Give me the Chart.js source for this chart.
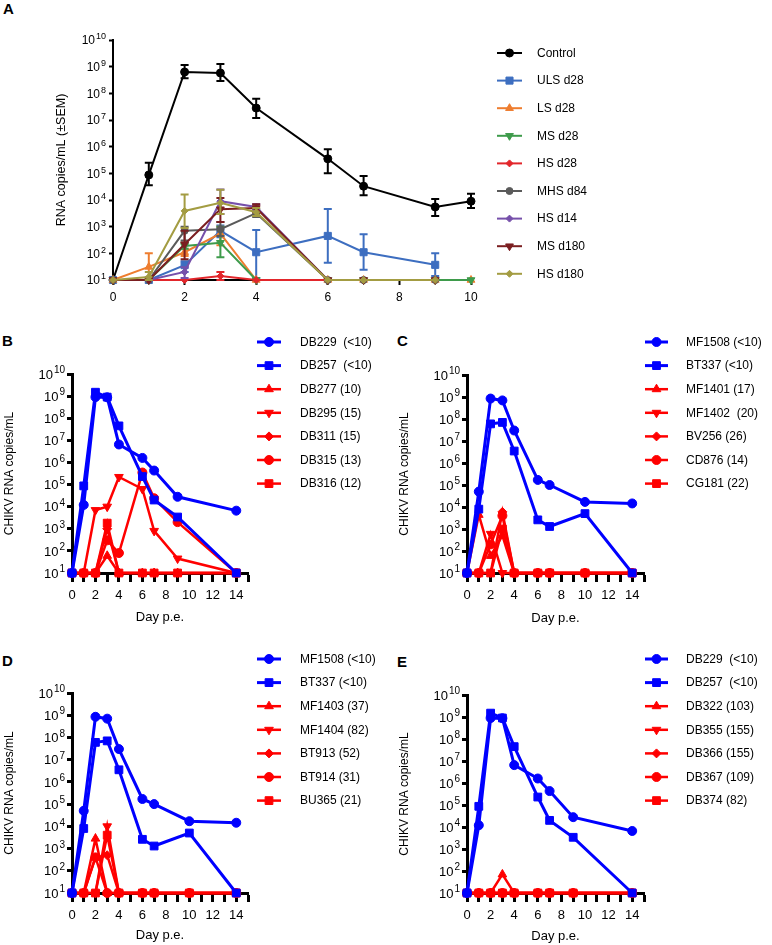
<!DOCTYPE html>
<html>
<head>
<meta charset="utf-8">
<script src="https://cdn.jsdelivr.net/npm/chart.js@4.4.1/dist/chart.umd.min.js"></script>
<style>
  body { margin: 0; background: #fff; width: 772px; height: 945px; position: relative; overflow: hidden; }
  canvas { position: absolute; }
  .tag { position: absolute; font: bold 15px "Liberation Sans", Arial, sans-serif; color: #000; }
</style>
</head>
<body>
<div class="tag" style="left:3px;top:0px">A</div>
<div class="tag" style="left:2px;top:332px">B</div>
<div class="tag" style="left:397px;top:332px">C</div>
<div class="tag" style="left:2px;top:652px">D</div>
<div class="tag" style="left:397px;top:653px">E</div>

<canvas id="chartA" width="772" height="312" style="left:0;top:0"></canvas>
<canvas id="chartB" width="380" height="310" style="left:0;top:320px"></canvas>
<canvas id="chartC" width="392" height="310" style="left:380px;top:320px"></canvas>
<canvas id="chartD" width="380" height="315" style="left:0;top:630px"></canvas>
<canvas id="chartE" width="392" height="315" style="left:380px;top:630px"></canvas>

<script>
const FONT = '"Liberation Sans", Arial, Helvetica, sans-serif';

// ---- shared ticks
const yTicks = [1e1, 1e2, 1e3, 1e4, 1e5, 1e6, 1e7, 1e8, 1e9, 1e10];
const xTicksA = [0, 2, 4, 6, 8, 10];
const xTicksDay = [0, 1, 2, 3, 4, 5, 6, 7, 8, 9, 10, 11, 12, 13, 14, 15];
const xLabelsDay = [0, 2, 4, 6, 8, 10, 12, 14];

// ---- panel A (mean ± SEM)
const daysA = [0, 1, 2, 3, 4, 6, 7, 9, 10];
const daysA9 = [0, 1, 2, 3, 4, 6, 7, 9];
const groupsA = ['Control', 'ULS d28', 'LS d28', 'MS d28', 'HS d28', 'MHS d84', 'HS d14', 'MS d180', 'HS d180'];

const control   = [10, 8.7e4, 6.3e8, 5.8e8, 2.8e7, 3.5e5, 3.3e4, 5.5e3, 9e3];
const controlHi = [null, 2.5e5, 1.15e9, 1.25e9, 6.2e7, 8e5, 8e4, 1.1e4, 1.7e4];
const controlLo = [null, 3.6e4, 3.7e8, 2.9e8, 1.2e7, 1e5, 1.5e4, 2.5e3, 5e3];
const ulsD28    = [10, 10, 36, 700, 110, 450, 110, 37];
const ulsD28Hi  = [null, null, 50, 1100, 750, 4600, 520, 100];
const ulsD28Lo  = [null, null, 20, 400, 12, 44, 24, 14];
const lsD28     = [10, 31, 110, 550, 10, 10, 10, 10, 10];
const lsD28Hi   = [null, 100, 150, 1000];
const lsD28Lo   = [null, 10, 80, 200];
const msD28     = [10, 10, 190, 250, 10, 10, 10, 10, 10];
const msD28Hi   = [null, null, 250, 1000];
const msD28Lo   = [null, null, 150, 72];
const hsD28     = [10, 10, 10, 14, 10, 10, 10, 10];
const hsD28Hi   = [null, null, null, 20];
const hsD28Lo   = [null, null, null, 10];
const mhsD84    = [10, 10, 700, 800, 3200, 10, 10, 10];
const mhsD84Hi  = [null, null, 1000, 1500, 4500];
const mhsD84Lo  = [null, null, 300, 450, 2300];
const hsD14     = [10, 10, 20, 9000, 5500, 10, 10, 10];
const hsD14Hi   = [null, null, 30, 25000, 7000];
const hsD14Lo   = [null, null, 12, 3000, 4000];
const msD180    = [10, 10, 220, 4500, 5000, 10, 10, 10];
const msD180Hi  = [null, null, 700, 12000, 7000];
const msD180Lo  = [null, null, 60, 1500, 3500];
const hsD180    = [10, 13, 3900, 7800, 3500, 10, 10, 10];
const hsD180Hi  = [null, 20, 16000, 24000, 5000];
const hsD180Lo  = [null, 10, 900, 3000, 2500];

// ---- panels B and E (DB animals)
const daysDB = [0, 1, 2, 3, 4, 6, 7, 9, 14];
const db229 = [10, 1.2e4, 9e8, 8.8e8, 6.5e6, 1.6e6, 4.3e5, 2.8e4, 6.6e3];
const db257 = [10, 8.7e4, 1.5e9, 9e8, 4.5e7, 2.3e5, 2e4, 3.4e3, 10];
const namesB = ['DB229  (<10)', 'DB257  (<10)', 'DB277 (10)', 'DB295 (15)', 'DB311 (15)', 'DB315 (13)', 'DB316 (12)'];
const db277 = [10, 10, 10, 60, 10, 10, 10, 10, 10];
const db295 = [10, 10, 7e3, 1e4, 2.2e5, 6.3e4, 800, 45, 10];
const db311 = [10, 10, 10, 1000, 10, 10, 10, 10, 10];
const db315 = [10, 10, 10, 300, 80, 3.5e5, 2.4e4, 2e3, 10];
const db316 = [10, 10, 10, 1800, 10, 10, 10, 10, 10];
const namesE = ['DB229  (<10)', 'DB257  (<10)', 'DB322 (103)', 'DB355 (155)', 'DB366 (155)', 'DB367 (109)', 'DB374 (82)'];
const db322 = [10, 10, 10, 70, 10, 10, 10, 10, 10];
const db355 = [10, 10, 10, 10, 10, 10, 10, 10, 10];
const db366 = [10, 10, 10, 10, 10, 10, 10, 10, 10];
const db367 = [10, 10, 10, 10, 10, 10, 10, 10, 10];
const db374 = [10, 10, 10, 10, 10, 10, 10, 10, 10];

// ---- panels C and D (MF/BT animals)
const daysMF = [0, 1, 2, 3, 4, 6, 7, 10, 14];
const mf1508 = [10, 5e4, 8.5e8, 7e8, 3e7, 1.7e5, 1e5, 1.7e4, 1.45e4];
const bt337  = [10, 8e3, 6e7, 7e7, 3.5e6, 2.6e3, 1.3e3, 5e3, 10];
const namesC = ['MF1508 (<10)', 'BT337 (<10)', 'MF1401 (17)', 'MF1402  (20)', 'BV256 (26)', 'CD876 (14)', 'CG181 (22)'];
const mf1401 = [10, 4400, 60, 500, 10, 10, 10, 10, 10];
const mf1402 = [10, 10, 600, 10, 10, 10, 10, 10, 10];
const bv256  = [10, 10, 10, 6000, 10, 10, 10, 10, 10];
const cd876  = [10, 10, 200, 4000, 10, 10, 10, 10, 10];
const cg181  = [10, 10, 10, 1000, 10, 10, 10, 10, 10];
const namesD = ['MF1508 (<10)', 'BT337 (<10)', 'MF1403 (37)', 'MF1404 (82)', 'BT913 (52)', 'BT914 (31)', 'BU365 (21)'];
const mf1403 = [10, 10, 2800, 10, 10, 10, 10, 10, 10];
const mf1404 = [10, 10, 10, 10000, 10, 10, 10, 10, 10];
const bt913  = [10, 10, 400, 500, 10, 10, 10, 10, 10];
const bt914  = [10, 10, 400, 10, 10, 10, 10, 10, 10];
const bu365  = [10, 10, 10, 4000, 10, 10, 10, 10, 10];

// ---- markers
const MK = {
  circle: { pointStyle: 'circle', rot: 0 },
  square: { pointStyle: 'rect', rot: 0 },
  up:     { pointStyle: 'triangle', rot: 0 },
  down:   { pointStyle: 'triangle', rot: 180 },
  diam:   { pointStyle: 'rectRot', rot: 0 }
};

function series(label, days, vals, color, mk, r, lw, hi, lo) {
  return {
    label,
    data: days.map((d, i) => ({ x: d, y: vals[i] })),
    borderColor: color,
    backgroundColor: color,
    pointBackgroundColor: color,
    pointBorderColor: color,
    pointBorderWidth: 1,
    borderWidth: lw,
    pointStyle: MK[mk].pointStyle,
    pointRotation: MK[mk].rot,
    pointRadius: r,
    tension: 0,
    clip: false,
    errHi: hi,
    errLo: lo
  };
}

function ownPoint(ctx, style, rot, r, x, y) {
  ctx.beginPath();
  if (style === 'rect') {
    const s = r * Math.SQRT1_2;
    ctx.rect(x - s, y - s, 2 * s, 2 * s);
  } else if (style === 'rectRot') {
    ctx.moveTo(x - r, y); ctx.lineTo(x, y - r); ctx.lineTo(x + r, y); ctx.lineTo(x, y + r);
  } else if (style === 'triangle') {
    const d = rot ? -1 : 1;
    ctx.moveTo(x, y - d * r);
    ctx.lineTo(x + 0.866 * r, y + d * r / 2);
    ctx.lineTo(x - 0.866 * r, y + d * r / 2);
  } else {
    ctx.arc(x, y, r, 0, Math.PI * 2);
  }
  ctx.closePath();
  ctx.fill();
  ctx.stroke();
}

// legend: line + marker + text, drawn from the dataset styles
const lineLegend = {
  id: 'lineLegend',
  afterDraw(chart, args, o) {
    const ctx = chart.ctx;
    ctx.save();
    chart.data.datasets.forEach((ds, i) => {
      const y = o.y0 + i * o.dy;
      ctx.strokeStyle = ds.borderColor;
      ctx.lineWidth = ds.borderWidth;
      ctx.beginPath();
      ctx.moveTo(o.x0, y);
      ctx.lineTo(o.x1, y);
      ctx.stroke();
      ctx.fillStyle = ds.pointBackgroundColor;
      ctx.strokeStyle = ds.pointBorderColor;
      ctx.lineWidth = 1;
      const cx = (o.x0 + o.x1) / 2;
      if (Chart.helpers && Chart.helpers.drawPoint) {
        Chart.helpers.drawPoint(ctx, { pointStyle: ds.pointStyle, rotation: ds.pointRotation, radius: ds.pointRadius, borderWidth: 1 }, cx, y);
      } else {
        ownPoint(ctx, ds.pointStyle, ds.pointRotation, ds.pointRadius, cx, y);
      }
      ctx.fillStyle = '#000';
      ctx.font = o.fs + 'px ' + FONT;
      ctx.textAlign = 'left';
      ctx.textBaseline = 'middle';
      ctx.fillText(ds.label, o.tx, y + 0.5);
    });
    ctx.restore();
  }
};

// SEM bars for panel A
const errorBars = {
  id: 'errorBars',
  afterDatasetDraw(chart, args, o) {
    const ds = chart.data.datasets[args.index];
    if (!ds.errHi) return;
    const ys = chart.scales.y, ctx = chart.ctx;
    ctx.save();
    ctx.strokeStyle = ds.borderColor;
    ctx.lineWidth = o.lw;
    args.meta.data.forEach((pt, i) => {
      const hi = ds.errHi[i], lo = ds.errLo[i];
      if (hi == null) return;
      const yh = ys.getPixelForValue(hi), yl = ys.getPixelForValue(lo);
      ctx.beginPath();
      ctx.moveTo(pt.x, yh); ctx.lineTo(pt.x, yl);
      ctx.moveTo(pt.x - o.cap, yh); ctx.lineTo(pt.x + o.cap, yh);
      ctx.moveTo(pt.x - o.cap, yl); ctx.lineTo(pt.x + o.cap, yl);
      ctx.stroke();
    });
    ctx.restore();
  }
};

// 10^n tick labels with a raised exponent
const powTicks = {
  id: 'powTicks',
  afterDraw(chart, args, o) {
    const sc = chart.scales.y, ctx = chart.ctx;
    ctx.save();
    ctx.fillStyle = '#000';
    ctx.textBaseline = 'alphabetic';
    ctx.textAlign = 'right';
    sc.ticks.forEach(t => {
      const y = sc.getPixelForValue(t.value);
      const e = String(Math.round(Math.log10(t.value)));
      const right = sc.right - o.off;
      ctx.font = o.sup + 'px ' + FONT;
      const ew = ctx.measureText(e).width;
      ctx.fillText(e, right, y + 0.36 * o.size - o.raise);
      ctx.font = o.size + 'px ' + FONT;
      ctx.fillText('10', right - ew - o.gap, y + 0.36 * o.size);
    });
    ctx.restore();
  }
};

Chart.defaults.font.family = FONT;
Chart.defaults.color = '#000';

function makeChart(id, datasets, g) {
  return new Chart(document.getElementById(id), {
    type: 'line',
    data: { datasets },
    plugins: [errorBars, lineLegend, powTicks],
    options: {
      responsive: false,
      animation: false,
      events: [],
      layout: { padding: g.pad },
      plugins: {
        legend: { display: false },
        tooltip: { enabled: false },
        lineLegend: g.legend,
        errorBars: { lw: g.ebw || 2, cap: g.cap || 4 },
        powTicks: { size: g.tfs, sup: g.sup, raise: g.raise, gap: 1, off: g.ytl + g.ypad }
      },
      scales: {
        x: {
          type: 'linear', position: 'bottom', min: 0, max: g.xmax,
          afterBuildTicks: s => { s.ticks = g.xticks.map(v => ({ value: v })); },
          afterFit: s => { s.height = g.xh; },
          ticks: {
            autoSkip: false, maxRotation: 0, padding: g.xpad, color: '#000',
            font: { size: g.tfs },
            callback: v => (g.xlabels.includes(v) ? String(v) : '')
          },
          grid: { drawOnChartArea: false, drawTicks: true, tickLength: g.xtl, tickColor: '#000', tickWidth: g.lw },
          border: { color: '#000', width: g.lw },
          title: { display: !!g.xtitle, text: g.xtitle || '', color: '#000', font: { size: 13 }, padding: { top: 0, bottom: g.xtp || 0 } }
        },
        y: {
          type: 'logarithmic', position: 'left', min: 10, max: 1e10,
          afterBuildTicks: s => { s.ticks = yTicks.map(v => ({ value: v })); },
          afterFit: s => { s.width = g.yw; },
          ticks: { autoSkip: false, padding: 0, callback: () => '' },
          grid: { drawOnChartArea: false, drawTicks: true, tickLength: g.ytl, tickColor: '#000', tickWidth: g.lw },
          border: { color: '#000', width: g.lw },
          title: { display: true, text: g.ytitle, color: '#000', font: { size: g.ytfs }, padding: { top: g.ytp, bottom: 0 } }
        }
      }
    }
  });
}

// ---- panel A
const colA = ['#000000', '#3d6ec0', '#ee7d2f', '#3e9b4b', '#e2262b', '#5a5a5a', '#7650aa', '#7b1e20', '#a39c42'];
const dsA = [
  series(groupsA[0], daysA, control, colA[0], 'circle', 4, 2, controlHi, controlLo),
  series(groupsA[1], daysA9, ulsD28, colA[1], 'square', 5, 2, ulsD28Hi, ulsD28Lo),
  series(groupsA[2], daysA, lsD28, colA[2], 'up', 4.5, 2, lsD28Hi, lsD28Lo),
  series(groupsA[3], daysA, msD28, colA[3], 'down', 4.5, 2, msD28Hi, msD28Lo),
  series(groupsA[4], daysA9, hsD28, colA[4], 'diam', 3.5, 2, hsD28Hi, hsD28Lo),
  series(groupsA[5], daysA9, mhsD84, colA[5], 'circle', 3.5, 2, mhsD84Hi, mhsD84Lo),
  series(groupsA[6], daysA9, hsD14, colA[6], 'diam', 3.5, 2, hsD14Hi, hsD14Lo),
  series(groupsA[7], daysA9, msD180, colA[7], 'down', 4.5, 2, msD180Hi, msD180Lo),
  series(groupsA[8], daysA9, hsD180, colA[8], 'diam', 3.5, 2, hsD180Hi, hsD180Lo)
];
dsA.forEach((d, i) => { d.order = dsA.length - i; });

makeChart('chartA', dsA, {
  pad: { left: 0, top: 40, right: 301, bottom: 0 },
  yw: 113, xh: 32, lw: 2, ytl: 4, ypad: 3, xtl: 5, xpad: 5,
  xmax: 10, xticks: xTicksA, xlabels: xTicksA,
  tfs: 12, sup: 9, raise: 5,
  ytitle: 'RNA copies/mL (±SEM)', ytfs: 12.5, ytp: 54,
  ebw: 2, cap: 4,
  legend: { x0: 497, x1: 522, tx: 537, y0: 53, dy: 27.6, fs: 12 }
});

// ---- panels B-E
const BLUE = '#0000ff', RED = '#ff0000';
function animalSets(days, names, blue1, blue2, reds) {
  const mks = ['up', 'down', 'diam', 'circle', 'square'];
  const out = [
    series(names[0], days, blue1, BLUE, 'circle', 4.5, 3),
    series(names[1], days, blue2, BLUE, 'square', 5.5, 3)
  ];
  reds.forEach((v, i) => out.push(series(names[i + 2], days, v, RED, mks[i], mks[i] === 'diam' ? 4.5 : mks[i] === 'square' ? 5.5 : mks[i] === 'circle' ? 4.5 : 5, 2.5)));
  return out;
}

function geo(left, top, right, legendX, legendY) {
  return {
    pad: { left: 0, top: top, right: right, bottom: 0 },
    yw: left, lw: 3, ytl: 5, ypad: 2, xtl: 9, xpad: 6,
    xmax: 15, xticks: xTicksDay, xlabels: xLabelsDay,
    tfs: 13, sup: 10, raise: 5.5,
    ytitle: 'CHIKV RNA copies/mL', ytfs: 12,
    xtitle: 'Day p.e.',
    legend: { x0: legendX[0], x1: legendX[1], tx: legendX[2], y0: legendY, dy: 23.6, fs: 12 }
  };
}

makeChart('chartB', animalSets(daysDB, namesB, db229, db257, [db277, db295, db311, db315, db316]),
  Object.assign(geo(72, 54, 132, [257, 281, 300], 22), { xh: 57, ytp: 2, xtp: 5 }));
makeChart('chartC', animalSets(daysMF, namesC, mf1508, bt337, [mf1401, mf1402, bv256, cd876, cg181]),
  Object.assign(geo(87, 55, 128, [265, 288, 306], 22), { xh: 57, ytp: 17, xtp: 4 }));
makeChart('chartD', animalSets(daysMF, namesD, mf1508, bt337, [mf1403, mf1404, bt913, bt914, bu365]),
  Object.assign(geo(72, 63, 132, [257, 281, 300], 29), { xh: 52, ytp: 2, xtp: 2 }));
makeChart('chartE', animalSets(daysDB, namesE, db229, db257, [db322, db355, db366, db367, db374]),
  Object.assign(geo(87, 65, 128, [265, 288, 306], 29), { xh: 52, ytp: 17, xtp: 1 }));
</script>
</body>
</html>
